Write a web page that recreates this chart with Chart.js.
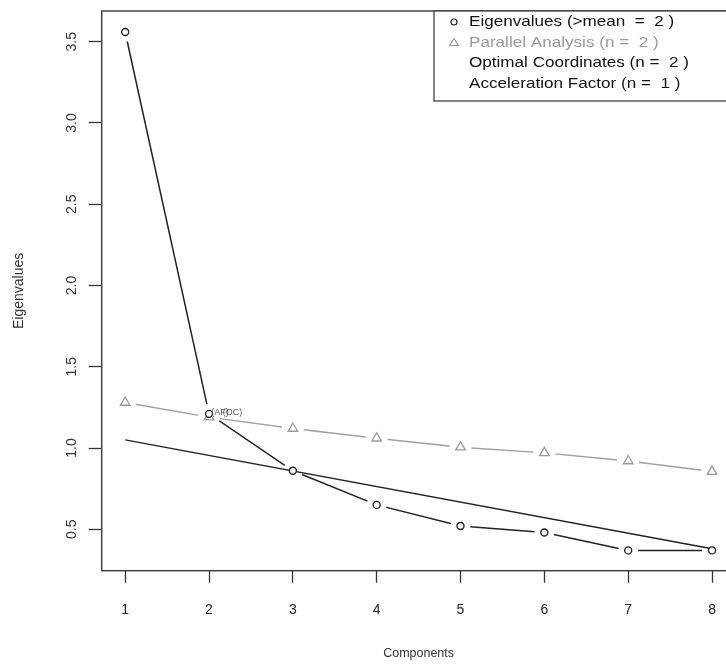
<!DOCTYPE html>
<html>
<head>
<meta charset="utf-8">
<script src="https://cdn.jsdelivr.net/npm/chart.js@4/dist/chart.umd.min.js"></script>
<style>
  html, body { margin: 0; padding: 0; background: #fff; overflow: hidden; }
  #chart1 { display: block; }
</style>
</head>
<body>
<canvas id="chart1" width="760" height="664" style="width:760px;height:664px"></canvas>
<script>
// values
const components = [1, 2, 3, 4, 5, 6, 7, 8];
const eigenvalues = [3.56, 1.21, 0.86, 0.65, 0.52, 0.48, 0.37, 0.37];
const parallelValues = [1.28, 1.19, 1.12, 1.06, 1.005, 0.97, 0.92, 0.855];
const ocComponents = [1, 8];
const ocValues = [1.05, 0.38];
const yTicks = [0.5, 1.0, 1.5, 2.0, 2.5, 3.0, 3.5];
const legendTexts = [
  'Eigenvalues (>mean  =  2 )',
  'Parallel Analysis (n =  2 )',
  'Optimal Coordinates (n =  2 )',
  'Acceleration Factor (n =  1 )',
];
const noteTexts = ['(AF)', '(OC)'];
const notePositions = [2.13, 2.28];
const noteValue = 1.215;

const FONT = "'Liberation Sans', Arial, sans-serif";

function toPoints(xs, ys) {
  return xs.map((x, i) => ({ x: x, y: ys[i] }));
}

// draws the R style box, rotated y labels, axis titles, notes and legend
const rStylePlugin = {
  id: 'rStyle',
  afterDraw(chart) {
    const ctx = chart.ctx;
    const area = chart.chartArea;
    const xs = chart.scales.x;
    const ys = chart.scales.y;
    ctx.save();

    ctx.strokeStyle = '#444';
    ctx.lineWidth = 1.5;
    ctx.strokeRect(area.left, area.top, area.right - area.left, area.bottom - area.top);

    ctx.fillStyle = '#333';
    ctx.font = '14px ' + FONT;
    ctx.textAlign = 'center';
    ctx.textBaseline = 'middle';
    yTicks.forEach(v => {
      ctx.save();
      ctx.translate(72, ys.getPixelForValue(v));
      ctx.rotate(-Math.PI / 2);
      ctx.fillText(v.toFixed(1), 0, 0);
      ctx.restore();
    });

    ctx.font = '14px ' + FONT;
    ctx.save();
    ctx.translate(19, (area.top + area.bottom) / 2);
    ctx.rotate(-Math.PI / 2);
    ctx.fillText('Eigenvalues', 0, 0);
    ctx.restore();
    ctx.font = '12.5px ' + FONT;
    ctx.fillText('Components', (area.left + area.right) / 2, 654);

    ctx.font = '9px ' + FONT;
    ctx.fillStyle = '#555';
    noteTexts.forEach((t, i) => {
      ctx.fillText(t, xs.getPixelForValue(notePositions[i]), ys.getPixelForValue(noteValue) - 1);
    });

    // legend
    const lx = 434, ly = area.top;
    ctx.fillStyle = '#fff';
    ctx.fillRect(lx, ly, 330, 90);
    ctx.strokeStyle = '#333';
    ctx.lineWidth = 1.2;
    ctx.strokeRect(lx, ly, 330, 90);
    ctx.font = '15px ' + FONT;
    ctx.textAlign = 'left';
    legendTexts.forEach((t, i) => {
      const y = ly + 11 + i * 20.5;
      ctx.fillStyle = i === 1 ? '#9a9a9a' : '#111';
      ctx.save();
      ctx.translate(469, y);
      ctx.scale(1.14, 1);
      ctx.fillText(t, 0, 0);
      ctx.restore();
    });
    ctx.strokeStyle = '#222';
    ctx.lineWidth = 1.2;
    ctx.beginPath();
    ctx.arc(454, ly + 11, 3, 0, Math.PI * 2);
    ctx.stroke();
    ctx.strokeStyle = '#9a9a9a';
    ctx.beginPath();
    const ty = ly + 31.5;
    ctx.moveTo(454, ty - 4);
    ctx.lineTo(458.5, ty + 3);
    ctx.lineTo(449.5, ty + 3);
    ctx.closePath();
    ctx.stroke();

    ctx.restore();
  },
};

function createScreePlot() {
  const ctx = document.getElementById('chart1');
  new Chart(ctx, {
    type: 'scatter',
    data: {
      datasets: [
        {
          data: toPoints(components, eigenvalues),
          showLine: true,
          borderColor: '#222',
          borderWidth: 1.5,
          pointRadius: 0,
          order: 10,
        },
        {
          data: toPoints(components, parallelValues),
          showLine: true,
          borderColor: '#a0a0a0',
          borderWidth: 1.4,
          pointRadius: 0,
          order: 10,
        },
        {
          // white gaps round the points, as R type = "b"
          data: toPoints(components, eigenvalues),
          showLine: false,
          pointRadius: 10,
          pointBackgroundColor: '#fff',
          pointBorderWidth: 0,
          order: 5,
        },
        {
          data: toPoints(components, parallelValues),
          showLine: false,
          pointRadius: 11,
          pointBackgroundColor: '#fff',
          pointBorderWidth: 0,
          order: 5,
        },
        {
          data: toPoints(ocComponents, ocValues),
          showLine: true,
          borderColor: '#222',
          borderWidth: 1.5,
          pointRadius: 0,
          order: 3,
        },
        {
          data: toPoints(components, eigenvalues),
          showLine: false,
          pointRadius: 3.5,
          pointBorderColor: '#222',
          pointBackgroundColor: '#fff',
          pointBorderWidth: 1.4,
          order: 1,
        },
        {
          data: toPoints(components, parallelValues),
          showLine: false,
          pointStyle: 'triangle',
          pointRadius: 5.5,
          pointBorderColor: '#999',
          pointBackgroundColor: '#fff',
          pointBorderWidth: 1.3,
          order: 1,
        },
      ],
    },
    options: {
      responsive: false,
      animation: false,
      devicePixelRatio: 1,
      layout: {
        padding: { top: 11, right: 24.5, left: 0, bottom: 0 },
      },
      scales: {
        x: {
          type: 'linear',
          min: 0.72,
          max: 8.28,
          afterBuildTicks: scale => {
            scale.ticks = components.map(v => ({ value: v }));
          },
          afterFit: scale => {
            scale.height = 93.3;
          },
          border: { display: false },
          grid: {
            drawOnChartArea: false,
            drawTicks: true,
            tickLength: 12,
            tickColor: '#333',
            tickWidth: 1.3,
          },
          ticks: {
            color: '#222',
            padding: 19,
            maxRotation: 0,
            font: { size: 14, family: FONT },
            callback: v => String(v),
          },
        },
        y: {
          type: 'linear',
          min: 0.245,
          max: 3.689,
          afterBuildTicks: scale => {
            scale.ticks = yTicks.map(v => ({ value: v }));
          },
          afterFit: scale => {
            scale.width = 101.7;
          },
          border: { display: false },
          grid: {
            drawOnChartArea: false,
            drawTicks: true,
            tickLength: 13,
            tickColor: '#333',
            tickWidth: 1.3,
          },
          ticks: {
            display: false,
          },
        },
      },
      plugins: {
        legend: { display: false },
        tooltip: { enabled: false },
      },
    },
    plugins: [rStylePlugin],
  });
}

createScreePlot();
</script>
</body>
</html>
